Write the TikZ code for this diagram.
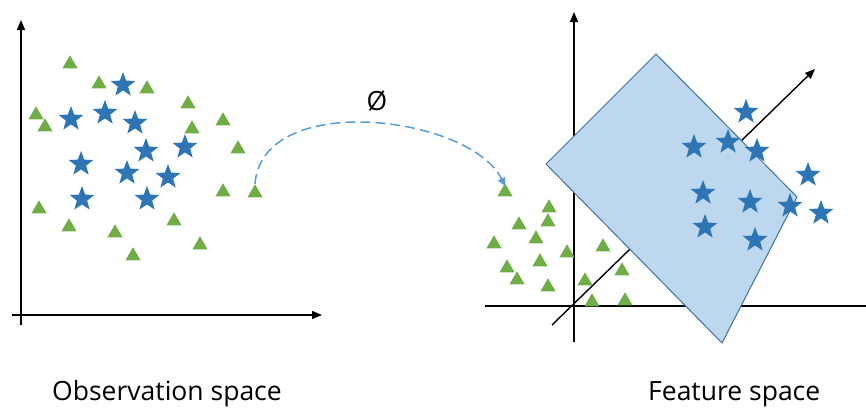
\documentclass[tikz,border=0pt]{standalone}
\usepackage{fontspec}
\setmainfont{Open Sans}
\usetikzlibrary{shapes.geometric,arrows.meta}

\definecolor{trigreen}{HTML}{70AD47}
\definecolor{starblue}{HTML}{2E75B6}
\definecolor{mapblue}{HTML}{5B9BD5}
\definecolor{boxfill}{HTML}{BDD7EE}
\definecolor{boxline}{HTML}{41719C}

\begin{document}
\begin{tikzpicture}[
  x=1pt, y=-1pt,
  tript/.style={regular polygon, regular polygon sides=3, fill=trigreen, inner sep=0pt, minimum size=17.5pt, yshift=-2pt},
  starpt/.style={star, star points=5, star point ratio=2.4, fill=starblue, inner sep=0pt, minimum size=26pt},
  axis/.style={line width=1.4pt, -{Triangle[length=10pt, width=8pt]}},
  lbl/.style={font=\fontsize{26.5}{32}\selectfont, inner sep=0pt}
]
  \useasboundingbox (0,0) rectangle (866,407);

  % --- espace d'observation ---
  \begin{scope}
    \coordinate (oy0) at (21,325);
    \coordinate (oy1) at (21,20);
    \coordinate (ox0) at (12,315);
    \coordinate (ox1) at (322,315);
    \draw[axis] (oy0) -- (oy1);
    \draw[axis] (ox0) -- (ox1);

    % triangles
    \node[tript] (a1) at (70,62) {};
    \node[tript] (a2) at (99,82) {};
    \node[tript] (a3) at (147,87) {};
    \node[tript] (a4) at (188,102) {};
    \node[tript] (a5) at (36,113) {};
    \node[tript] (a6) at (45,125) {};
    \node[tript] (a7) at (192,127) {};
    \node[tript] (a8) at (223,119) {};
    \node[tript] (a9) at (238,147) {};
    \node[tript] (a10) at (223,190) {};
    \node[tript] (a11) at (255,191) {};
    \node[tript] (a12) at (39,207) {};
    \node[tript] (a13) at (69,225) {};
    \node[tript] (a14) at (115,231) {};
    \node[tript] (a15) at (174,219) {};
    \node[tript] (a16) at (200,243) {};
    \node[tript] (a17) at (133,254) {};

    % etoiles
    \node[starpt] (c1) at (123,85) {};
    \node[starpt] (c2) at (71,119) {};
    \node[starpt] (c3) at (105,113) {};
    \node[starpt] (c4) at (135,123) {};
    \node[starpt] (c5) at (146,151) {};
    \node[starpt] (c6) at (185,147) {};
    \node[starpt] (c7) at (81,164) {};
    \node[starpt] (c8) at (127,173) {};
    \node[starpt] (c9) at (168,177) {};
    \node[starpt] (c10) at (82,199) {};
    \node[starpt] (c11) at (147,199) {};

    \node[lbl, anchor=base west] (obs) at (52,400) {Observation space};
  \end{scope}

  % --- espace des features ---
  \begin{scope}
    \coordinate (fy0) at (574,342);
    \coordinate (fy1) at (574,12);
    \coordinate (fx0) at (485,306);
    \coordinate (fx1) at (866,306);
    \coordinate (fd0) at (552,325);
    \coordinate (fd1) at (815,69);
    \draw[axis] (fy0) -- (fy1);
    \draw[line width=1.4pt] (fx0) -- (fx1);
    \draw[axis] (fd0) -- (fd1);

    % hyperplan
    \draw[fill=boxfill, draw=boxline, line width=1pt]
      (656,54) -- (797,197) -- (722,343) -- (546,164) -- cycle;

    % triangles
    \node[tript] (b1) at (505,190) {};
    \node[tript] (b2) at (549,206) {};
    \node[tript] (b3) at (548,220) {};
    \node[tript] (b4) at (519,223) {};
    \node[tript] (b5) at (536,237) {};
    \node[tript] (b6) at (494,242) {};
    \node[tript] (b7) at (567,251) {};
    \node[tript] (b8) at (603,245) {};
    \node[tript] (b9) at (507,266) {};
    \node[tript] (b10) at (540,260) {};
    \node[tript] (b11) at (517,278) {};
    \node[tript] (b12) at (548,285) {};
    \node[tript] (b13) at (585,279) {};
    \node[tript] (b14) at (622,269) {};
    \node[tript] (b15) at (592,300) {};
    \node[tript] (b16) at (625,299) {};

    % etoiles
    \node[starpt] (d1) at (746,112) {};
    \node[starpt] (d2) at (694,147) {};
    \node[starpt] (d3) at (728,142) {};
    \node[starpt] (d4) at (757,151) {};
    \node[starpt] (d5) at (808,175) {};
    \node[starpt] (d6) at (703,193) {};
    \node[starpt] (d7) at (750,202) {};
    \node[starpt] (d8) at (790,206) {};
    \node[starpt] (d9) at (821,213) {};
    \node[starpt] (d10) at (705,227) {};
    \node[starpt] (d11) at (755,240) {};

    \node[lbl, anchor=base west] (feat) at (648,400) {Feature space};
  \end{scope}

  % --- application phi ---
  \node[lbl] (phi) at (377,101) {Ø};
  \draw[mapblue, line width=1.5pt, dash pattern=on 10pt off 5pt,
        -{Triangle[length=8pt, width=8pt]}]
    (a11.north) .. controls (262,90) and (470,115) .. ([yshift=-3pt]b1.north);
\end{tikzpicture}
\end{document}
